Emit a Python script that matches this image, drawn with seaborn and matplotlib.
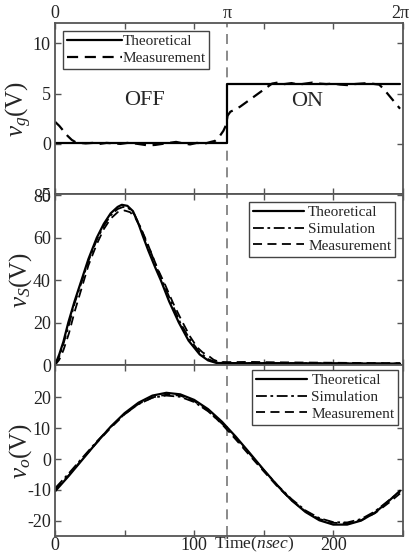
import matplotlib
matplotlib.use("Agg")
import matplotlib.pyplot as plt
import seaborn as sns
import numpy as np

# ---------------- data ----------------
T_HALF = 123.6          # time of pi (ns)
T_END = 248.0           # time of 2*pi (ns)

# gate voltage
vg_theo_t = [0, 123.6, 123.6, 248]
vg_theo_v = [0.1, 0.1, 6.0, 6.0]
vg_meas_t = [0, 3, 6, 9, 12, 15, 18, 22, 27, 32, 37, 42, 47, 52, 57, 62, 67, 72, 77, 82,
             87, 92, 97, 102, 107, 112, 115, 118, 121, 123, 124, 126, 129, 133, 137, 141,
             145, 149, 153, 156, 160, 165, 170, 175, 180, 185, 190, 195, 200, 205, 210,
             215, 220, 225, 230, 233, 236, 239, 242, 245, 248]
vg_meas_v = [2.2, 1.8, 1.3, 0.8, 0.4, 0.15, 0.1, 0.05, 0.1, 0.0, 0.1, 0.05, 0.0, 0.1,
             0.05, -0.05, -0.15, -0.1, 0.0, 0.1, 0.2, 0.05, -0.05, 0.1, 0.0, 0.2, 0.3,
             0.7, 1.3, 1.9, 2.8, 3.2, 3.4, 3.7, 4.1, 4.5, 4.9, 5.3, 5.7, 6.0, 6.1, 5.95,
             6.05, 5.9, 6.0, 6.1, 6.0, 5.95, 6.0, 5.9, 5.85, 5.95, 6.0, 6.05, 5.95, 5.9,
             5.5, 5.0, 4.5, 4.0, 3.5]

# switch voltage
vs_theo_t = [0, 3, 6, 9.5, 14, 19, 24, 30, 35, 40, 45, 48, 52, 56, 60, 63, 67, 72, 76,
             82, 89, 96, 104, 110, 116, 124, 160, 200, 248]
vs_theo_v = [0, 5, 11, 20, 30, 40, 50, 60, 66.5, 71.5, 74.5, 75.5, 75, 72.5, 66.5, 61,
             54, 46, 40, 30, 20, 11.5, 5, 2.2, 1.0, 0.9, 0.9, 0.8, 0.7]
vs_sim_t = [0, 3, 6, 10, 14, 19, 24, 30, 35, 40, 45, 49, 53, 57, 61, 65, 69, 73, 78,
            84, 90, 97, 104, 110, 116, 124, 160, 200, 248]
vs_sim_v = [0, 4, 10, 19, 29, 39, 49, 59, 65.5, 70.5, 73.5, 74.5, 73.8, 71, 65.5, 59,
            53, 46, 38.5, 29, 20, 12, 6, 2.8, 1.3, 1.0, 0.9, 0.8, 0.7]
vs_meas_t = [0, 3, 6, 10, 14, 19, 24, 30, 35, 40, 45, 50, 54, 58, 62, 66, 70, 74, 79,
             85, 91, 97, 102, 106, 110, 114, 118, 124, 140, 160, 180, 200, 220, 248]
vs_meas_v = [0, 2.5, 7, 15, 25, 36, 47, 57, 64, 69, 72, 72.8, 72, 69, 64, 58, 51.5,
             45, 38, 29, 21, 13.5, 8.5, 6, 4.5, 2.5, 1.5, 1.4, 1.5, 1.3, 1.2, 1.1, 1.0, 0.9]

# output voltage
vo_t = [0, 10, 20, 30, 40, 50, 60, 70, 80, 90, 100, 110, 120, 130, 140, 150, 160, 170,
        180, 190, 200, 210, 220, 230, 240, 248]
vo_theo = [-10.5, -5.4, 0.0, 5.4, 10.5, 14.9, 18.3, 20.6, 21.5, 21.0, 19.2, 16.2, 12.1,
           7.2, 1.9, -3.5, -8.7, -13.4, -17.2, -19.9, -21.3, -21.3, -20.0, -17.4, -13.6,
           -10.3]
vo_sim = [-9.5, -4.6, 0.6, 5.7, 10.4, 14.6, 17.8, 19.9, 20.6, 20.2, 18.5, 15.5, 11.5,
          6.8, 1.6, -3.6, -8.6, -13.0, -16.7, -19.2, -20.5, -20.6, -19.5, -17.0, -13.4,
          -10.6]
vo_meas = [-10.0, -5.2, 0.2, 5.3, 10.1, 14.5, 17.9, 20.0, 20.9, 20.6, 18.8, 15.7, 11.3,
           6.3, 1.1, -4.0, -9.0, -13.4, -17.0, -19.5, -20.7, -20.9, -19.9, -17.6, -14.2,
           -11.2]

x_ticks = [0, 50, 100, 150, 200, 250]
x_ticklabels = ["0", "", "100", "", "200", ""]
top_labels = ["0", "π", "2π"]
top_label_pos = [0, T_HALF, T_END]

# ---------------- style ----------------
sns.set_style("ticks")
plt.rcParams["font.family"] = ["Liberation Serif", "DejaVu Serif"]
plt.rcParams["mathtext.fontset"] = "custom"
plt.rcParams["mathtext.rm"] = "Liberation Serif"
plt.rcParams["mathtext.it"] = "Liberation Serif:italic"
plt.rcParams["axes.unicode_minus"] = False

fig, axes = plt.subplots(3, 1, figsize=(4.14, 5.54), dpi=100, sharex=True)
fig.subplots_adjust(left=0.133, right=0.973, top=0.958, bottom=0.0325, hspace=0)

spine_col = "#555555"
for ax in axes:
    ax.set_xlim(0, T_END)
    ax.set_xticks(x_ticks)
    ax.tick_params(direction="in", top=True, right=True, length=4, width=1,
                   labelsize=13, pad=3)
    ax.tick_params(colors=spine_col, which="both", labelcolor="#222222")
    for s in ax.spines.values():
        s.set_color(spine_col)
        s.set_linewidth(1.3)
    ax.axvline(T_HALF, color="#777777", lw=1.2, ls=(0, (6, 4)), zorder=1)

leg_kw = dict(frameon=True, fancybox=False, edgecolor="#444444", framealpha=1,
              fontsize=11, handletextpad=0.3, borderpad=0.25, labelspacing=0.2,
              borderaxespad=0.5)

ylab_x = -0.062

# top panel
ax = axes[0]
sns.lineplot(x=vg_theo_t, y=vg_theo_v, ax=ax, color="k", lw=1.6, label="Theoretical",
             estimator=None, sort=False)
sns.lineplot(x=vg_meas_t, y=vg_meas_v, ax=ax, color="k", lw=1.6, ls=(0, (5, 3)),
             label="Measurement", estimator=None, sort=False)
ax.set_ylim(-5, 12)
ax.set_yticks([-5, 0, 5, 10])
ax.set_ylabel(r"$v_g$(V)", fontsize=18)
ax.yaxis.set_label_coords(ylab_x, 0.5)
ax.text(64, 4.3, "OFF", fontsize=16, ha="center", va="center")
ax.text(181, 4.2, "ON", fontsize=16, ha="center", va="center")
ax.legend(loc="upper left", handlelength=3.6, **{**leg_kw, "handletextpad": 0.05})
for lab, pos in zip(top_labels, top_label_pos):
    ax.text(pos, 1.005, lab, transform=ax.get_xaxis_transform(), ha="center",
            va="bottom", fontsize=13)

# middle panel
ax = axes[1]
sns.lineplot(x=vs_theo_t, y=vs_theo_v, ax=ax, color="k", lw=1.6, label="Theoretical",
             estimator=None, sort=False)
sns.lineplot(x=vs_sim_t, y=vs_sim_v, ax=ax, color="k", lw=1.3, ls=(0, (6, 2, 1.5, 2)),
             label="Simulation", estimator=None, sort=False)
sns.lineplot(x=vs_meas_t, y=vs_meas_v, ax=ax, color="k", lw=1.3, ls=(0, (5, 3)),
             label="Measurement", estimator=None, sort=False)
ax.set_ylim(0, 80.5)
ax.set_yticks([0, 20, 40, 60, 80])
ax.set_ylabel(r"$v_S$(V)", fontsize=18)
ax.yaxis.set_label_coords(ylab_x, 0.5)
ax.legend(loc="upper right", handlelength=3.3, **leg_kw)

# bottom panel
ax = axes[2]
sns.lineplot(x=vo_t, y=vo_theo, ax=ax, color="k", lw=1.6, label="Theoretical",
             estimator=None, sort=False)
sns.lineplot(x=vo_t, y=vo_sim, ax=ax, color="k", lw=1.3, ls=(0, (6, 2, 1.5, 2)),
             label="Simulation", estimator=None, sort=False)
sns.lineplot(x=vo_t, y=vo_meas, ax=ax, color="k", lw=1.3, ls=(0, (5, 3)),
             label="Measurement", estimator=None, sort=False)
ax.set_ylim(-25, 30.5)
ax.set_yticks([-20, -10, 0, 10, 20])
ax.set_ylabel(r"$v_o$(V)", fontsize=18)
ax.yaxis.set_label_coords(ylab_x, 0.5)
ax.legend(loc="upper right", handlelength=3.3, **{**leg_kw, "borderaxespad": 0.3})
ax.set_xticklabels(x_ticklabels)
ax.tick_params(axis="x", pad=1)

fig.text(254 / 414, 1 - 544 / 554, r"Time($\mathit{nsec)}$", fontsize=12.5,
         ha="center", va="center")

fig.savefig("out.png", dpi=100)
